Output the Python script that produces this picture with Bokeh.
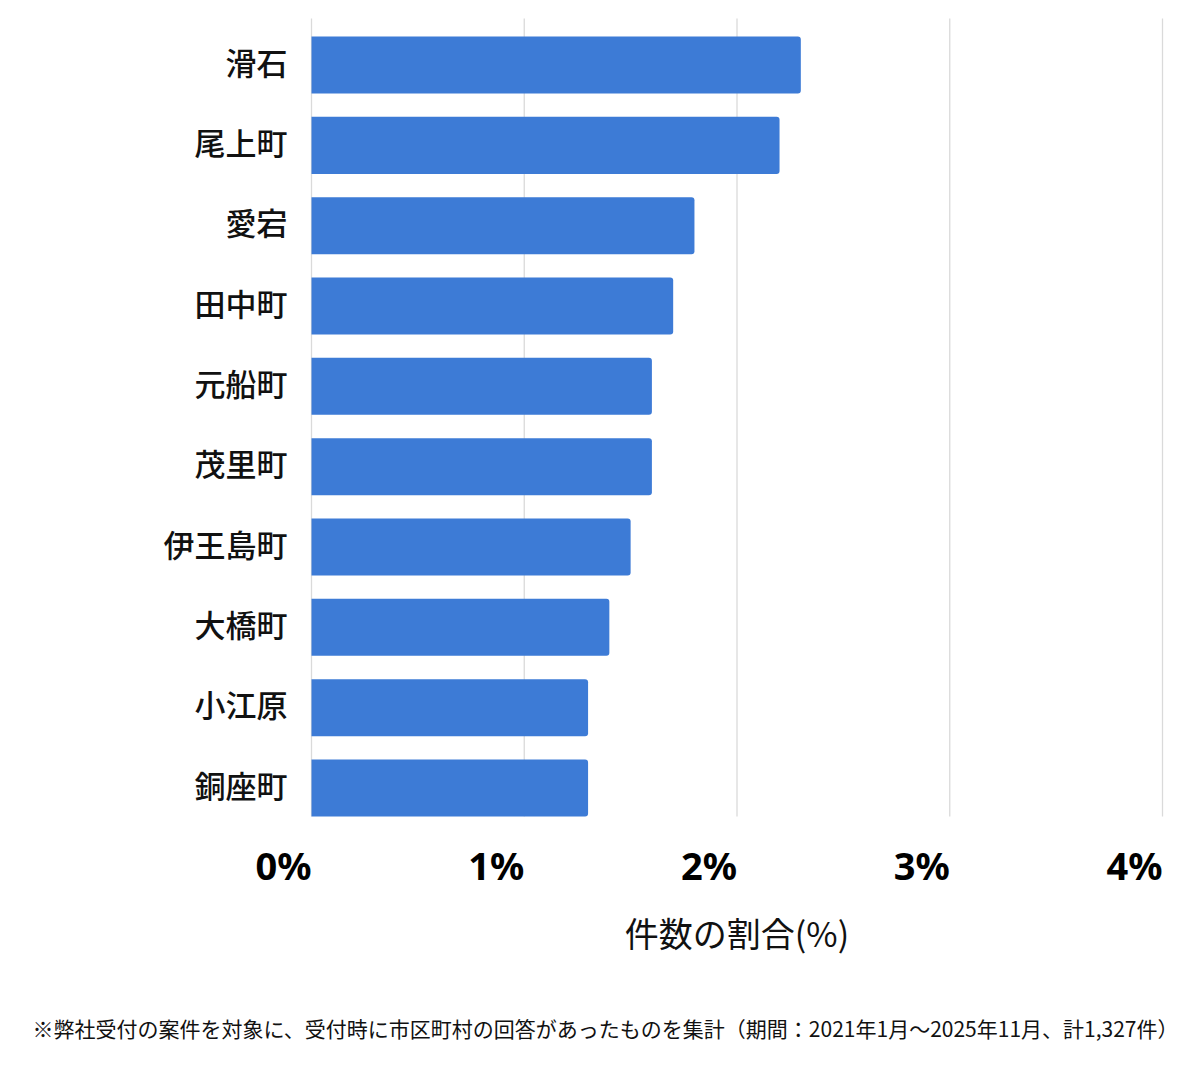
from bokeh.plotting import figure
from bokeh.models import Range1d, ColumnDataSource
from bokeh.core.properties import value
from bokeh.embed import file_html
from bokeh.resources import INLINE

# ---- data ----
areas = ["滑石", "尾上町", "愛宕", "田中町", "元船町", "茂里町", "伊王島町", "大橋町", "小江原", "銅座町"]
shares = [2.3, 2.2, 1.8, 1.7, 1.6, 1.6, 1.5, 1.4, 1.3, 1.3]
x_ticks = [0, 1, 2, 3, 4]
x_tick_labels = ["0%", "1%", "2%", "3%", "4%"]
x_title = "件数の割合(%)"
footnote = "※弊社受付の案件を対象に、受付時に市区町村の回答があったものを集計（期間：2021年1月～2025年11月、計1,327件）"

# ---- layout (pixels) ----
W, H = 1190, 1060
X0_PX = 311.0          # pixel of 0%
PX_PER_PCT = 212.75    # pixels per 1%
BAR_PITCH = 80.33      # pixels per category
LAST_BAR_PX = 787.5    # pixel centre of lowest bar
GRID_TOP_PX, GRID_BOT_PX = 18, 816
LABEL_LIFT = 4.0 / BAR_PITCH

def xd(px):
    return (px - X0_PX) / PX_PER_PCT

def yd(py):
    return (LAST_BAR_PX - py) / BAR_PITCH

n = len(areas)
ypos = [n - 1 - i for i in range(n)]

p = figure(width=W, height=H, output_backend="svg", toolbar_location=None,
           x_range=Range1d(xd(0), xd(W)), y_range=Range1d(yd(H), yd(0)),
           min_border=0, x_axis_type=None, y_axis_type=None)
p.outline_line_color = None
p.grid.visible = False
p.background_fill_color = "white"
p.border_fill_color = "white"

# vertical grid lines
p.segment(x0=x_ticks, x1=x_ticks, y0=[yd(GRID_BOT_PX)] * len(x_ticks),
          y1=[yd(GRID_TOP_PX)] * len(x_ticks), line_color="#dadada", line_width=1.3)

# bars
src = ColumnDataSource(dict(y=ypos, ylab=[v + LABEL_LIFT for v in ypos],
                            right=shares, name=areas))
p.hbar(y="y", left=0, right="right", height=0.71, source=src,
       fill_color="#3d7bd6", line_color=None, border_radius=(0, 3, 3, 0))

# category labels
p.text(x=xd(287), y="ylab", text="name", source=src, text_align="right",
       text_baseline="middle", text_font=value("Noto Sans CJK JP Medium"),
       text_font_size="31px", text_color="#111111")

# x tick labels (right-aligned at tick)
p.text(x=x_ticks, y=[yd(864)] * len(x_ticks), text=x_tick_labels,
       text_align="right", text_baseline="middle", text_font=value("Noto Sans"),
       text_font_style="bold", text_font_size="38px", text_color="#000000")

# axis title
p.text(x=[2], y=[yd(932)], text=[x_title], text_align="center",
       text_baseline="middle", text_font=value("Noto Sans CJK JP"),
       text_font_size="34px", text_color="#111111")

# footnote
p.text(x=[xd(32)], y=[yd(1027)], text=[footnote], text_align="left",
       text_baseline="middle", text_font=value("Noto Sans CJK JP"),
       text_font_size="21px", text_color="#111111")

open("out.html", "w").write(file_html(p, INLINE))
